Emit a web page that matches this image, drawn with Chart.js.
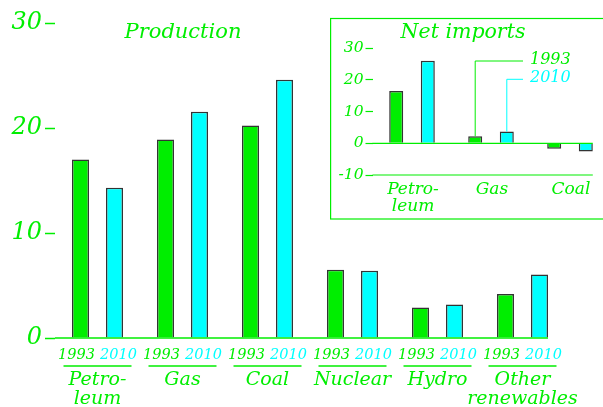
<!DOCTYPE html>
<html>
<head>
<meta charset="utf-8">
<script src="https://cdn.jsdelivr.net/npm/chart.js@4/dist/chart.umd.min.js"></script>
<style>
  html, body { margin: 0; padding: 0; background: #ffffff; overflow: hidden; width: 603px; height: 407px; }
  #wrap { position: relative; width: 603px; height: 407px; overflow: hidden; }
  #main { position: absolute; left: 0; top: 0; }
  #inset { position: absolute; left: 330px; top: 0; }
</style>
</head>
<body>
<div id="wrap">
  <canvas id="main" width="603" height="407"></canvas>
  <canvas id="inset" width="290" height="230"></canvas>
</div>
<script>
// ---- data ----
const years = ['1993', '2010'];
const categories = [['Petro-', 'leum'], ['Gas'], ['Coal'], ['Nuclear'], ['Hydro'], ['Other', 'renewables']];
const production1993 = [17.0, 18.9, 20.25, 6.5, 2.9, 4.2];
const production2010 = [14.3, 21.55, 24.6, 6.4, 3.2, 6.05];
const productionTicks = [0, 10, 20, 30];

const importCategories = [['Petro-', 'leum'], ['Gas'], ['Coal']];
const imports1993 = [16.5, 2.2, -1.7];
const imports2010 = [26.1, 3.7, -2.6];
const importTicks = [-10, 0, 10, 20, 30];

const mainTitle = 'Production';
const insetTitle = 'Net imports';

// ---- styles ----
const GREEN = '#00ee00';
const CYAN = '#00ffff';
const EDGE = '#333333';
const FAM = "'DejaVu Serif', serif";
const yearColors = [GREEN, CYAN];

function font(size) { return 'italic ' + size + 'px ' + FAM; }

function line(ctx, pts, color, w) {
  ctx.save();
  ctx.strokeStyle = color;
  ctx.lineWidth = w;
  ctx.beginPath();
  ctx.moveTo(pts[0][0], pts[0][1]);
  for (let i = 1; i < pts.length; i++) ctx.lineTo(pts[i][0], pts[i][1]);
  ctx.stroke();
  ctx.restore();
}
function text(ctx, s, x, y, color, size, align) {
  ctx.save();
  ctx.fillStyle = color;
  ctx.font = font(size);
  ctx.textAlign = align || 'center';
  ctx.textBaseline = 'middle';
  ctx.fillText(s, x, y);
  ctx.restore();
}

// ---- main chart ----
const mainDecor = {
  id: 'mainDecor',
  afterDatasetsDraw(chart) {
    const ctx = chart.ctx;
    const y = chart.scales.y;
    const m0 = chart.getDatasetMeta(0), m1 = chart.getDatasetMeta(1);
    const last = m1.data[m1.data.length - 1];
    const y0 = y.getPixelForValue(0);
    line(ctx, [[chart.chartArea.left, y0], [last.x + last.width / 2, y0]], GREEN, 1.5);
    text(ctx, mainTitle, 183, 33, GREEN, 21);
    categories.forEach((cat, i) => {
      const b0 = m0.data[i], b1 = m1.data[i];
      const cx = (b0.x + b1.x) / 2;
      text(ctx, years[0], cx - 2.5, 355, yearColors[0], 14.5, 'right');
      text(ctx, years[1], cx + 2.5, 355, yearColors[1], 14.5, 'left');
      line(ctx, [[cx - 34, 366], [cx + 34, 366]], GREEN, 1.5);
      cat.forEach((s, k) => text(ctx, s, cx, 380 + k * 19, GREEN, 19));
    });
  }
};

new Chart(document.getElementById('main'), {
  type: 'bar',
  data: {
    labels: categories.map(c => c.join(' ')),
    datasets: [
      { label: years[0], data: production1993, backgroundColor: GREEN, borderColor: EDGE, borderWidth: 1.5, barPercentage: 0.5, categoryPercentage: 0.8 },
      { label: years[1], data: production2010, backgroundColor: CYAN, borderColor: EDGE, borderWidth: 1.5, barPercentage: 0.5, categoryPercentage: 0.8 }
    ]
  },
  options: {
    responsive: false,
    animation: false,
    layout: { padding: { left: 0, right: 38, top: 23, bottom: 69 } },
    plugins: { legend: { display: false }, tooltip: { enabled: false }, title: { display: false } },
    scales: {
      x: { display: false, offset: true },
      y: {
        min: productionTicks[0], max: productionTicks[productionTicks.length - 1],
        afterBuildTicks: s => { s.ticks = productionTicks.map(v => ({ value: v })); },
        afterFit: s => { s.width = 55; },
        ticks: { color: GREEN, font: { family: FAM, style: 'italic', size: 24 }, padding: 3 },
        grid: { drawOnChartArea: false, drawTicks: true, tickLength: 10, tickColor: GREEN, tickWidth: 1.5, color: GREEN },
        border: { display: false }
      }
    }
  },
  plugins: [mainDecor]
});

// ---- inset chart ----
const insetDecor = {
  id: 'insetDecor',
  beforeDraw(chart) {
    const ctx = chart.ctx;
    ctx.save();
    ctx.strokeStyle = GREEN;
    ctx.lineWidth = 1.2;
    ctx.strokeRect(0.6, 18.5, 400, 200.5);
    ctx.restore();
  },
  afterDatasetsDraw(chart) {
    const ctx = chart.ctx;
    const y = chart.scales.y;
    const m0 = chart.getDatasetMeta(0), m1 = chart.getDatasetMeta(1);
    const last = m1.data[m1.data.length - 1];
    const xr = last.x + last.width / 2;
    [0, -10].forEach(v => {
      const py = y.getPixelForValue(v);
      line(ctx, [[chart.chartArea.left, py], [xr, py]], GREEN, 1.2);
    });
    text(ctx, insetTitle, 133, 33, GREEN, 20.5);
    importCategories.forEach((cat, i) => {
      const cx = (m0.data[i].x + m1.data[i].x) / 2;
      cat.forEach((s, k) => text(ctx, s, cx + 1, 190 + k * 16.5, GREEN, 17));
    });
    // leader-line legend pointing at the Gas bars
    const g0 = m0.data[1], g1 = m1.data[1];
    line(ctx, [[193, 61], [g0.x, 61], [g0.x, g0.y]], GREEN, 1);
    line(ctx, [[193, 79.3], [g1.x, 79.3], [g1.x, g1.y]], CYAN, 1);
    text(ctx, years[0], 200, 59.5, GREEN, 16, 'left');
    text(ctx, years[1], 200, 78, CYAN, 16, 'left');
  }
};

new Chart(document.getElementById('inset'), {
  type: 'bar',
  data: {
    labels: importCategories.map(c => c.join(' ')),
    datasets: [
      { label: years[0], data: imports1993, backgroundColor: GREEN, borderColor: EDGE, borderWidth: 1.5, barPercentage: 0.443, categoryPercentage: 0.8 },
      { label: years[1], data: imports2010, backgroundColor: CYAN, borderColor: EDGE, borderWidth: 1.5, barPercentage: 0.443, categoryPercentage: 0.8 }
    ]
  },
  options: {
    responsive: false,
    animation: false,
    layout: { padding: { left: 0, right: 10.5, top: 48.3, bottom: 55 } },
    plugins: { legend: { display: false }, tooltip: { enabled: false }, title: { display: false } },
    scales: {
      x: { display: false, offset: true },
      y: {
        min: importTicks[0], max: importTicks[importTicks.length - 1],
        afterBuildTicks: s => { s.ticks = importTicks.map(v => ({ value: v })); },
        afterFit: s => { s.width = 42.5; },
        ticks: { color: GREEN, font: { family: FAM, style: 'italic', size: 15.5 }, padding: 2 },
        grid: { drawOnChartArea: false, drawTicks: true, tickLength: 7, tickColor: GREEN, tickWidth: 1.2, color: GREEN },
        border: { display: false }
      }
    }
  },
  plugins: [insetDecor]
});
</script>
</body>
</html>
